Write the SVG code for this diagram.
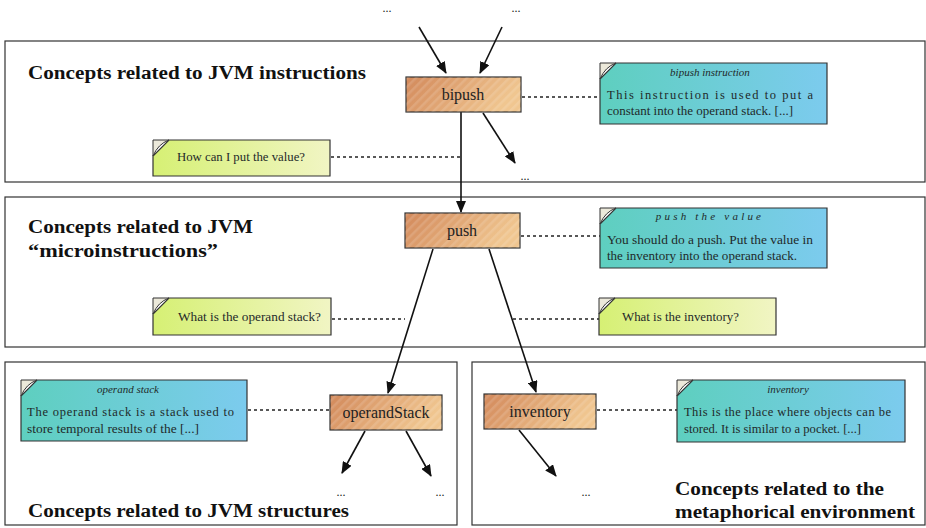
<svg xmlns="http://www.w3.org/2000/svg" width="926" height="528" viewBox="0 0 926 528">
  <defs>
    <linearGradient id="nodeFill" x1="0" y1="0" x2="1" y2="0.3">
      <stop offset="0" stop-color="#d2885a"/>
      <stop offset="1" stop-color="#f0c690"/>
    </linearGradient>
    <pattern id="hatch" width="6" height="6" patternUnits="userSpaceOnUse" patternTransform="rotate(-45)">
      <rect width="6" height="2.5" fill="#ffffff" fill-opacity="0.13"/>
    </pattern>
    <linearGradient id="infoFill" x1="0" y1="0" x2="1" y2="0">
      <stop offset="0" stop-color="#5ecfbf"/>
      <stop offset="1" stop-color="#7ccbee"/>
    </linearGradient>
    <linearGradient id="askFill" x1="0" y1="0" x2="1" y2="0">
      <stop offset="0" stop-color="#d6f074"/>
      <stop offset="1" stop-color="#f1f5c4"/>
    </linearGradient>
    <marker id="arrow" viewBox="0 0 12 10" refX="11" refY="5" markerWidth="12" markerHeight="10" markerUnits="userSpaceOnUse" orient="auto">
      <path d="M0,0 L12,5 L0,10 Z" fill="#111"/>
    </marker>
  </defs>
  <style>
    .panel { fill: #fff; stroke: #333; stroke-width: 1.2; }
    .title { font-family: "Liberation Serif", serif; font-weight: bold; font-size: 18px; fill: #111; }
    .node rect.base { fill: url(#nodeFill); stroke: #333; stroke-width: 1.2; }
    .node rect.tex { fill: url(#hatch); }
    .node text { font-family: "Liberation Serif", serif; font-size: 16px; fill: #222; text-anchor: middle; }
    .note path.body { stroke: #333; stroke-width: 1.2; }
    .info path.body { fill: url(#infoFill); }
    .ask path.body { fill: url(#askFill); }
    .note path.fold { fill: #ece9da; stroke: #333; stroke-width: 1; }
    .note text { font-family: "Liberation Serif", serif; font-size: 12.5px; fill: #1f2a2a; }
    .note text.head { font-style: italic; font-size: 11px; text-anchor: middle; }
    .ask text { font-size: 12.5px; }
    .wire { stroke: #111; stroke-width: 1.6; fill: none; }
    .dots { stroke: #222; stroke-width: 1.3; stroke-dasharray: 3 3; fill: none; }
    .more { font-family: "Liberation Serif", serif; font-size: 12px; fill: #222; text-anchor: middle; }
  </style>

  <!-- layer panels -->
  <g id="panels">
    <rect class="panel" x="5" y="41" width="920" height="141"/>
    <rect class="panel" x="5" y="197" width="920" height="150"/>
    <rect class="panel" x="5" y="362" width="452" height="163"/>
    <rect class="panel" x="472" y="362" width="453" height="163"/>
    <text class="title" x="28" y="79" textLength="338" lengthAdjust="spacingAndGlyphs">Concepts related to JVM instructions</text>
    <text class="title" x="28" y="233" textLength="225" lengthAdjust="spacingAndGlyphs">Concepts related to JVM</text>
    <text class="title" x="28" y="257" textLength="190" lengthAdjust="spacingAndGlyphs">“microinstructions”</text>
    <text class="title" x="28" y="517" textLength="321" lengthAdjust="spacingAndGlyphs">Concepts related to JVM structures</text>
    <text class="title" x="675" y="495" textLength="209" lengthAdjust="spacingAndGlyphs">Concepts related to the</text>
    <text class="title" x="675" y="518" textLength="240" lengthAdjust="spacingAndGlyphs">metaphorical environment</text>
  </g>

  <!-- connectors -->
  <g id="connectors">
    <line class="wire" x1="419" y1="27" x2="446" y2="73" marker-end="url(#arrow)"/>
    <line class="wire" x1="502" y1="27" x2="480" y2="73" marker-end="url(#arrow)"/>
    <line class="wire" x1="461" y1="112" x2="461" y2="212" marker-end="url(#arrow)"/>
    <line class="wire" x1="483" y1="113" x2="515" y2="163" marker-end="url(#arrow)"/>
    <line class="wire" x1="433" y1="249" x2="388" y2="393" marker-end="url(#arrow)"/>
    <line class="wire" x1="489" y1="249" x2="536" y2="392" marker-end="url(#arrow)"/>
    <line class="wire" x1="365" y1="431" x2="342" y2="473" marker-end="url(#arrow)"/>
    <line class="wire" x1="406" y1="431" x2="431" y2="476" marker-end="url(#arrow)"/>
    <line class="wire" x1="519" y1="430" x2="556" y2="476" marker-end="url(#arrow)"/>
    <line class="dots" x1="522" y1="97" x2="600" y2="97"/>
    <line class="dots" x1="331" y1="157" x2="460" y2="157"/>
    <line class="dots" x1="521" y1="236" x2="600" y2="236"/>
    <line class="dots" x1="332" y1="319" x2="405" y2="319"/>
    <line class="dots" x1="513" y1="319" x2="599" y2="319"/>
    <line class="dots" x1="248" y1="410" x2="330" y2="410"/>
    <line class="dots" x1="597" y1="410" x2="677" y2="410"/>
    <text class="more" x="387" y="12">...</text>
    <text class="more" x="516" y="12">...</text>
    <text class="more" x="525" y="180">...</text>
    <text class="more" x="341" y="496">...</text>
    <text class="more" x="440" y="496">...</text>
    <text class="more" x="586" y="496">...</text>
  </g>

  <!-- concept nodes -->
  <g id="node-bipush" class="node">
    <rect class="base" x="406" y="77" width="115" height="35"/>
    <rect class="tex" x="406" y="77" width="115" height="35"/>
    <text x="463" y="100">bipush</text>
  </g>
  <g id="node-push" class="node">
    <rect class="base" x="405" y="213" width="115" height="35"/>
    <rect class="tex" x="405" y="213" width="115" height="35"/>
    <text x="462" y="236">push</text>
  </g>
  <g id="node-operandStack" class="node">
    <rect class="base" x="330" y="395" width="112" height="35"/>
    <rect class="tex" x="330" y="395" width="112" height="35"/>
    <text x="386" y="418">operandStack</text>
  </g>
  <g id="node-inventory" class="node">
    <rect class="base" x="484" y="394" width="112" height="35"/>
    <rect class="tex" x="484" y="394" width="112" height="35"/>
    <text x="540" y="417">inventory</text>
  </g>

  <!-- description notes -->
  <g id="note-bipush" class="note info">
    <path class="body" d="M600,79 L600,124 L827,124 L827,63 L616,63 Z"/>
    <path class="fold" d="M600,63 L616,63 Q605,67 600,79 Z"/>
    <text class="head" x="710" y="76">bipush instruction</text>
    <text x="607" y="99" textLength="206" lengthAdjust="spacing">This instruction is used to put a</text>
    <text x="607" y="115" textLength="186" lengthAdjust="spacingAndGlyphs">constant into the operand stack. [...]</text>
  </g>
  <g id="note-push" class="note info">
    <path class="body" d="M600,224 L600,268 L827,268 L827,208 L616,208 Z"/>
    <path class="fold" d="M600,208 L616,208 Q605,212 600,224 Z"/>
    <text class="head" x="710" y="220" letter-spacing="3.2">push the value</text>
    <text x="607" y="244" textLength="206" lengthAdjust="spacingAndGlyphs">You should  do a push. Put the value in</text>
    <text x="607" y="260" textLength="190" lengthAdjust="spacingAndGlyphs">the inventory into the operand stack.</text>
  </g>
  <g id="note-operandStack" class="note info">
    <path class="body" d="M21,396 L21,441 L247,441 L247,380 L37,380 Z"/>
    <path class="fold" d="M21,380 L37,380 Q26,384 21,396 Z"/>
    <text class="head" x="128" y="393">operand stack</text>
    <text x="27" y="416" textLength="207" lengthAdjust="spacing">The operand stack is a stack used to</text>
    <text x="27" y="433" textLength="172" lengthAdjust="spacingAndGlyphs">store temporal results of the  [...]</text>
  </g>
  <g id="note-inventory" class="note info">
    <path class="body" d="M677,396 L677,442 L905,442 L905,380 L693,380 Z"/>
    <path class="fold" d="M677,380 L693,380 Q682,384 677,396 Z"/>
    <text class="head" x="788" y="393">inventory</text>
    <text x="684" y="416" textLength="207" lengthAdjust="spacing">This is the place where objects can be</text>
    <text x="684" y="433" textLength="177" lengthAdjust="spacingAndGlyphs">stored. It is similar to a pocket. [...]</text>
  </g>

  <!-- question notes -->
  <g id="note-put-value" class="note ask">
    <path class="body" d="M153,156 L153,176 L330,176 L330,140 L169,140 Z"/>
    <path class="fold" d="M153,140 L169,140 Q158,144 153,156 Z"/>
    <text x="177" y="161" textLength="128" lengthAdjust="spacingAndGlyphs">How can I put the value?</text>
  </g>
  <g id="note-what-stack" class="note ask">
    <path class="body" d="M153,314 L153,335 L331,335 L331,298 L169,298 Z"/>
    <path class="fold" d="M153,298 L169,298 Q158,302 153,314 Z"/>
    <text x="178" y="321" textLength="143" lengthAdjust="spacingAndGlyphs">What is the operand stack?</text>
  </g>
  <g id="note-what-inventory" class="note ask">
    <path class="body" d="M599,314 L599,335 L776,335 L776,298 L615,298 Z"/>
    <path class="fold" d="M599,298 L615,298 Q604,302 599,314 Z"/>
    <text x="622" y="321" textLength="117" lengthAdjust="spacingAndGlyphs">What is the inventory?</text>
  </g>
</svg>
